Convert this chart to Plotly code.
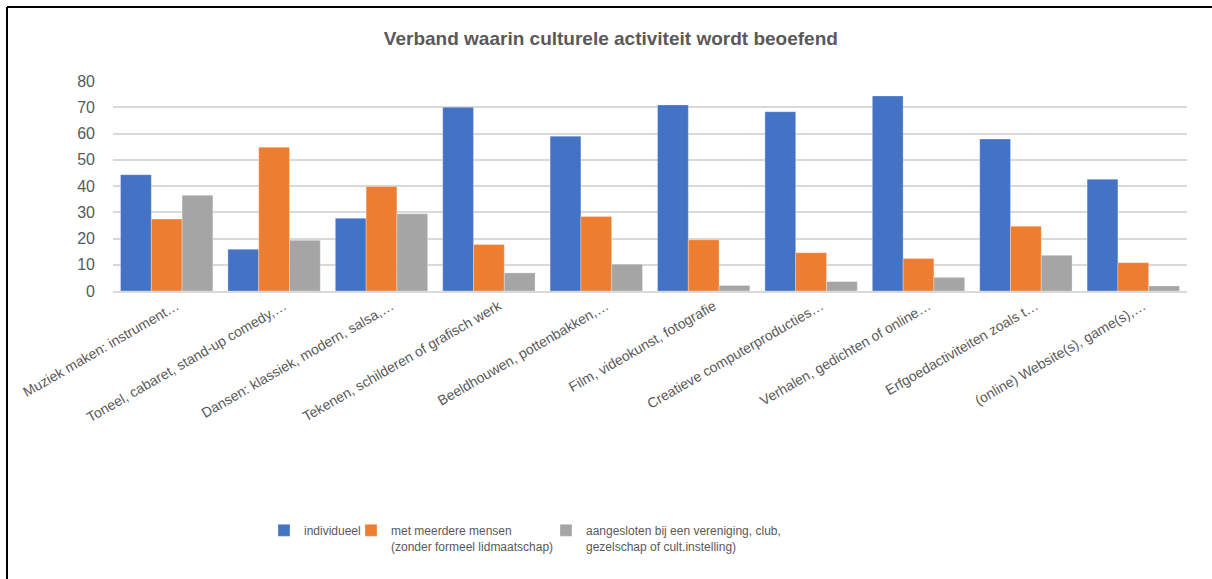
import plotly.graph_objects as go

categories = [
    "Muziek maken: instrument…",
    "Toneel, cabaret, stand-up comedy,…",
    "Dansen: klassiek, modern, salsa,…",
    "Tekenen, schilderen of grafisch werk",
    "Beeldhouwen, pottenbakken,…",
    "Film, videokunst, fotografie",
    "Creatieve computerproducties…",
    "Verhalen, gedichten of online…",
    "Erfgoedactiviteiten zoals t…",
    "(online) Website(s), game(s),…",
]
individueel = [44.3, 15.9, 27.7, 70.0, 59.0, 70.9, 68.3, 74.3, 57.9, 42.6]
meerdere = [27.4, 54.8, 39.8, 17.7, 28.4, 19.5, 14.6, 12.4, 24.7, 10.8]
aangesloten = [36.5, 19.3, 29.4, 6.9, 10.2, 2.1, 3.6, 5.2, 13.6, 1.9]

series_names = [
    "individueel",
    "met meerdere mensen<br>(zonder formeel lidmaatschap)",
    "aangesloten bij een vereniging, club,<br>gezelschap of cult.instelling)",
]
colors = ["#4472C4", "#ED7D31", "#A5A5A5"]
y_ticks = [0, 10, 20, 30, 40, 50, 60, 70, 80]

FONT = "Arial, Liberation Sans, sans-serif"
TXT = "#595959"

W, H = 1212, 579
L, R, T, B = 113, 25, 81, 288
pw = W - L - R
ph = H - T - B

def px_x(x):
    return (x - L) / pw

def px_y(y):
    return (H - B - y) / ph

legend_ids = ["legend", "legend2", "legend3"]
legend_px = [264, 351, 546]

fig = go.Figure()
for name, vals, col, lg in zip(series_names, [individueel, meerdere, aangesloten], colors, legend_ids):
    fig.add_trace(go.Bar(
        x=categories, y=vals, name=name, legend=lg,
        marker=dict(color=col, line=dict(color="rgba(255,255,255,0.6)", width=0.5)),
    ))

legend_common = dict(orientation="h", yanchor="top", y=px_y(516), xanchor="left",
                     font=dict(size=12, color=TXT, family=FONT), valign="top",
                     itemwidth=30, bgcolor="rgba(0,0,0,0)")

fig.update_layout(
    width=W, height=H,
    margin=dict(l=L, r=R, t=T, b=B, pad=0, autoexpand=False),
    paper_bgcolor="white", plot_bgcolor="white",
    font=dict(family=FONT, size=14, color=TXT),
    title=dict(text="<b>Verband waarin culturele activiteit wordt beoefend</b>",
               x=0.504, xanchor="center", y=1 - 38 / H, yanchor="middle",
               font=dict(size=19, color=TXT, family=FONT)),
    barmode="group", bargap=0.14, bargroupgap=0,
    showlegend=True,
    legend=dict(x=px_x(legend_px[0]), **legend_common),
    legend2=dict(x=px_x(legend_px[1]), **legend_common),
    legend3=dict(x=px_x(legend_px[2]), **legend_common),
    xaxis=dict(tickangle=-30, showgrid=False, showline=True, linecolor="#d9d9d9", linewidth=1.5,
               ticks="", automargin=False, ticklabelshift=10, tickfont=dict(size=14, color=TXT)),
    yaxis=dict(range=[0, 80], tickvals=y_ticks, showgrid=True, gridcolor="#d9d9d9", gridwidth=1.5,
               zeroline=False, showline=False, ticks="", ticklabelstandoff=17, automargin=False,
               tickfont=dict(size=16, color=TXT)),
)

# chart frame (left and top edges visible in the reference)
fig.add_shape(type="line", xref="paper", yref="paper",
              x0=px_x(7), x1=px_x(7), y0=px_y(7), y1=px_y(H + 10),
              line=dict(color="black", width=2))
fig.add_shape(type="line", xref="paper", yref="paper",
              x0=px_x(7), x1=px_x(W + 10), y0=px_y(7), y1=px_y(7),
              line=dict(color="black", width=2))

fig.write_html("out.html", config={"displayModeBar": False},
               post_script="document.body.style.margin='0px';document.body.style.overflow='hidden';")
